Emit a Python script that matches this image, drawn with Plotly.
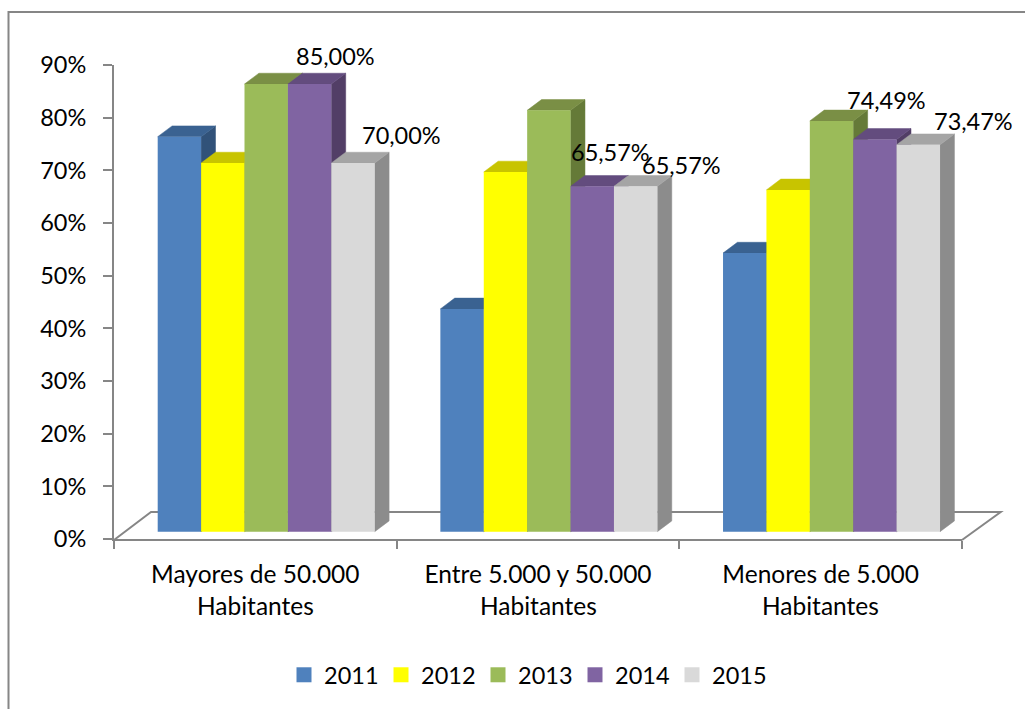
import plotly.graph_objects as go

categories = ["Mayores de 50.000", "Entre 5.000 y 50.000", "Menores de 5.000"]
category_line2 = ["Habitantes", "Habitantes", "Habitantes"]
years = ["2011", "2012", "2013", "2014", "2015"]
v2011 = [75.0, 42.3, 52.9]
v2012 = [70.0, 68.3, 64.9]
v2013 = [85.0, 80.0, 78.0]
v2014 = [85.0, 65.57, 74.49]
v2015 = [70.0, 65.57, 73.47]
series = [v2011, v2012, v2013, v2014, v2015]
y_ticks = [0, 10, 20, 30, 40, 50, 60, 70, 80, 90]
y_labels = ["0%", "10%", "20%", "30%", "40%", "50%", "60%", "70%", "80%", "90%"]
front = ["#4F81BD", "#FFFF00", "#9BBB59", "#8064A2", "#D9D9D9"]
top = ["#3A6291", "#C8C400", "#7A8F45", "#634C7E", "#A5A5A5"]
side = ["#315279", "#A5A500", "#657A38", "#523E66", "#8C8C8C"]
# (series index, category index, x shift px, y shift px up) of the data labels
labels = [(3, 0, 26, 28), (4, 0, 48, 28), (3, 1, 18, 34), (4, 1, 46, 21), (3, 2, 12, 39), (4, 2, 55, 24)]

W, H = 1025, 709
L, R, T, B = 114, 962, 65, 539
px_x = (R - L) / 3
px_y = (B - T) / 90
bar_w = 43.4 / px_x
start = 43.7 / px_x
base = 7.3 / px_y
dx = 14.4 / px_x
dy = 10.8 / px_y
font = "Lato, Carlito, sans-serif"
fs = 23.5
fs_cat = 24.5
gray = "#868686"


def px(X):
    return (X - L) / (R - L)


def py(Y):
    return (B - Y) / (B - T)


fig = go.Figure()
# Depth faces, drawn below the front faces (front faces live on the overlaying axes)
for s, vals in enumerate(series):
    for c, v in enumerate(vals):
        x0 = c + start + s * bar_w
        x1 = x0 + bar_w
        t = base + v
        fig.add_trace(go.Scatter(x=[x1, x1 + dx, x1 + dx, x1, x1], y=[base, base + dy, t + dy, t, base], mode="lines",
                                 fill="toself", fillcolor=side[s], line=dict(color=side[s], width=0.5),
                                 cliponaxis=False, showlegend=False, hoverinfo="skip"))
        fig.add_trace(go.Scatter(x=[x0, x1, x1 + dx, x0 + dx, x0], y=[t, t, t + dy, t + dy, t], mode="lines",
                                 fill="toself", fillcolor=top[s], line=dict(color=top[s], width=0.5),
                                 cliponaxis=False, showlegend=False, hoverinfo="skip"))
# Front faces
for s, vals in enumerate(series):
    fig.add_trace(go.Bar(x=[c + start + (s + 0.5) * bar_w for c in range(3)], y=vals, base=base, width=bar_w,
                         marker=dict(color=front[s], line=dict(width=0)), xaxis="x2", yaxis="y2",
                         showlegend=False, cliponaxis=False, name=years[s]))
# Legend entries
for s, year in enumerate(years):
    fig.add_trace(go.Scatter(x=[None], y=[None], mode="markers", name=year,
                             marker=dict(symbol="square", size=15, color=front[s])))

ann = []
for s, c, xs, ys in labels:
    v = series[s][c]
    ann.append(dict(x=c + start + (s + 0.5) * bar_w, y=base + v, xref="x2", yref="y2", text=f"{v:.2f}%".replace(".", ","),
                    showarrow=False, xshift=xs, yshift=ys, font=dict(family=font, size=fs, color="#000")))
for c, line2 in enumerate(category_line2):
    ann.append(dict(x=c + 0.5, y=0, xref="x", yref="y", text=line2, showarrow=False, yshift=-66,
                    font=dict(family=font, size=fs_cat, color="#000")))

fig.update_layout(
    width=W, height=H, margin=dict(l=L, r=W - R, t=T, b=H - B, pad=0, autoexpand=False),
    paper_bgcolor="white", plot_bgcolor="white", barmode="overlay", showlegend=True,
    font=dict(family=font, size=fs, color="#000"),
    xaxis=dict(range=[0, 3], tickvals=[0.5, 1.5, 2.5], ticktext=categories, ticks="", showgrid=False, zeroline=False,
               showline=True, linecolor=gray, linewidth=2, ticklabelstandoff=13, tickfont=dict(size=fs_cat),
               minor=dict(tickmode="array", tickvals=[0, 1, 2, 3], ticks="outside", ticklen=8, tickcolor=gray, tickwidth=2, showgrid=False)),
    yaxis=dict(range=[0, 90], tickvals=y_ticks, ticktext=y_labels, ticks="outside", ticklen=9,
               tickcolor=gray, tickwidth=2, showgrid=False, zeroline=False, showline=True, linecolor=gray, linewidth=2, ticklabelstandoff=12),
    xaxis2=dict(range=[0, 3], overlaying="x", visible=False),
    yaxis2=dict(range=[0, 90], overlaying="y", visible=False),
    legend=dict(orientation="h", xref="paper", yref="paper", x=px(284), y=py(653), xanchor="left", yanchor="top",
                entrywidth=52, entrywidthmode="pixels", itemsizing="trace", font=dict(family=font, size=fs), bgcolor="rgba(0,0,0,0)"),
    annotations=ann,
    shapes=[
        # chart frame
        dict(type="path", xref="paper", yref="paper",
             path=f"M {px(8.5)} {py(720)} L {px(8.5)} {py(12)} L {px(1030)} {py(12)}",
             line=dict(color=gray, width=2)),
        # floor of the 3D box
        dict(type="path", xref="paper", yref="paper", layer="below",
             path=f"M {px(114)} {py(540)} L {px(151)} {py(512)} L {px(1000.7)} {py(512)} L {px(962)} {py(540)}",
             line=dict(color=gray, width=2)),
    ],
)
fig.write_html("out.html", config={"displayModeBar": False},
               post_script="document.body.style.margin='0';document.body.style.overflow='hidden';")
